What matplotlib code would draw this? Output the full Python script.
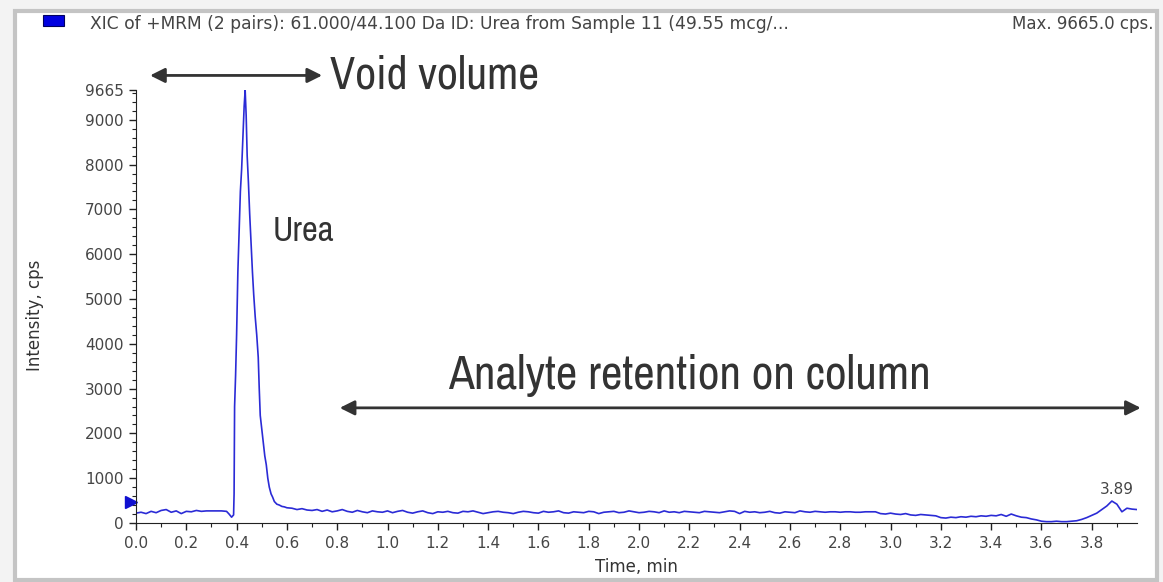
import os
import numpy as np
import matplotlib
matplotlib.use("Agg")
import matplotlib.pyplot as plt
from matplotlib import font_manager
from matplotlib.font_manager import FontProperties
from matplotlib.patches import Rectangle
from matplotlib.ticker import MultipleLocator, FixedLocator

# baseline before the urea peak, 0.00 - 0.36 min, every 0.02 min
pre_start = 0.0
pre_vals = [220, 240, 210, 260, 230, 280, 300, 240, 270, 210,
            260, 250, 280, 260, 270, 270, 270, 270, 260]

# urea peak (time, intensity)
peak_t = [0.370, 0.380, 0.388, 0.390, 0.392, 0.396, 0.400, 0.405, 0.410, 0.415,
          0.420, 0.425, 0.430, 0.434, 0.438, 0.442, 0.447, 0.452, 0.458, 0.463,
          0.468, 0.474, 0.480, 0.486, 0.490, 0.494, 0.500, 0.506, 0.512, 0.518,
          0.524, 0.530, 0.537, 0.543, 0.550, 0.560, 0.570, 0.580, 0.590, 0.600]
peak_i = [200, 130, 180, 650, 2600, 3300, 4200, 5600, 6500, 7400,
          7900, 8600, 9300, 9665, 9100, 8200, 7600, 6900, 6200, 5600,
          5100, 4600, 4200, 3700, 3000, 2400, 2100, 1800, 1500, 1300,
          1000, 800, 650, 580, 480, 420, 400, 370, 360, 340]

# baseline after the peak, 0.62 - 3.98 min, every 0.02 min
post_start = 0.62
post_vals = [330, 300, 320, 290, 280, 300, 260, 290, 250, 270,   # 0.62-0.80
             300, 260, 240, 280, 250, 230, 270, 250, 240, 270,   # 0.82-1.00
             230, 260, 280, 240, 220, 250, 270, 230, 210, 250,   # 1.02-1.20
             240, 260, 230, 220, 260, 250, 270, 240, 210, 230,   # 1.22-1.40
             250, 260, 240, 230, 210, 240, 260, 250, 230, 220,   # 1.42-1.60
             260, 240, 250, 270, 230, 220, 250, 240, 230, 260,   # 1.62-1.80
             250, 210, 240, 250, 260, 230, 240, 270, 250, 230,   # 1.82-2.00
             240, 260, 250, 230, 270, 240, 250, 230, 260, 250,   # 2.02-2.20
             240, 230, 260, 250, 240, 230, 250, 270, 260, 210,   # 2.22-2.40
             260, 240, 250, 230, 240, 260, 230, 220, 250, 240,   # 2.42-2.60
             230, 270, 250, 240, 260, 250, 240, 250, 250, 240,   # 2.62-2.80
             250, 250, 240, 240, 250, 250, 250, 210, 200, 220,   # 2.82-3.00
             200, 190, 210, 180, 170, 190, 180, 170, 160, 120,   # 3.02-3.20
             110, 130, 120, 140, 130, 150, 140, 160, 150, 170,   # 3.22-3.40
             160, 190, 150, 200, 160, 130, 120, 90, 70, 40,      # 3.42-3.60
             30, 30, 40, 30, 30, 40, 50, 80, 120, 170,           # 3.62-3.80
             220, 300, 380, 490, 420, 250, 330, 310, 300]        # 3.82-3.98

y_ticks = [0, 1000, 2000, 3000, 4000, 5000, 6000, 7000, 8000, 9000, 9665]
max_cps = 9665
small_peak_rt = 3.89
threshold_level = 460

pre_t = [round(pre_start + 0.02 * k, 3) for k in range(len(pre_vals))]
post_t = [round(post_start + 0.02 * k, 3) for k in range(len(post_vals))]
time = np.array(pre_t + peak_t + post_t)
intensity = np.array(pre_vals + peak_i + post_vals)

avail = {f.name for f in font_manager.fontManager.ttflist}
big_font = "Archivo Narrow"
for cand in ["Liberation Sans Narrow", "Archivo Narrow"]:
    if cand in avail:
        big_font = cand
        break

dv_path = os.path.join(matplotlib.get_data_path(), "fonts", "ttf", "DejaVuSans.ttf")


def small(size):
    if os.path.exists(dv_path):
        return FontProperties(fname=dv_path, size=size)
    return FontProperties(family="DejaVu Sans", size=size)


W, H = 1163, 582
fig = plt.figure(figsize=(W / 100, H / 100), dpi=100, facecolor="#f3f3f3")

# panel frame
fig.patches.append(Rectangle((15 / W, 1 - 580 / H), 1142 / W, 569 / H,
                             transform=fig.transFigure, facecolor="white",
                             edgecolor="#c4c4c4", lw=3, zorder=-10))
fig.patches.append(Rectangle((43 / W, 1 - 26 / H), 21 / W, 11 / H,
                             transform=fig.transFigure, facecolor="#0000e0",
                             edgecolor="#000060", lw=0.8, zorder=1))
fig.text(90 / W, 1 - 24 / H,
         "XIC of +MRM (2 pairs): 61.000/44.100 Da ID: Urea from Sample 11 (49.55 mcg/...",
         fontproperties=small(12.3), color="#444444", va="center", ha="left")
fig.text(1153 / W, 1 - 24 / H, "Max. %.1f cps." % max_cps,
         fontproperties=small(12), color="#444444", va="center", ha="right")

ax = fig.add_axes([136 / W, 1 - 523 / H, (1137 - 136) / W, (523 - 90) / H])
ax.set_facecolor("none")
ax.plot(time, intensity, color="#2b2bd6", lw=1.2)

ax.set_xlim(0, 3.98)
ax.set_ylim(0, max_cps)
for s in ["top", "right"]:
    ax.spines[s].set_visible(False)
ax.spines["left"].set_bounds(0, max_cps)
ax.spines["left"].set_color("#222222")
ax.spines["bottom"].set_color("#222222")

ax.xaxis.set_major_locator(MultipleLocator(0.2))
ax.xaxis.set_minor_locator(MultipleLocator(0.1))
ax.xaxis.set_major_formatter(matplotlib.ticker.FormatStrFormatter("%.1f"))
ax.yaxis.set_major_locator(FixedLocator(y_ticks))
ax.yaxis.set_minor_locator(MultipleLocator(200))
ax.tick_params(axis="both", which="major", labelcolor="#454545",
               length=5, width=1, color="#222222")
ax.tick_params(axis="x", which="major", pad=4)
ax.tick_params(axis="y", which="major", pad=4)
ax.tick_params(axis="both", which="minor", length=3, width=0.8, color="#222222")
fig.canvas.draw()
for lbl in ax.get_xticklabels() + ax.get_yticklabels():
    lbl.set_fontproperties(small(11))

ax.set_xlabel("Time, min", fontproperties=small(12), color="#333333", va="center")
ax.set_ylabel("Intensity, cps", fontproperties=small(12), color="#333333", va="center")
ax.xaxis.set_label_coords(0.5, -0.102)
ax.yaxis.set_label_coords(-0.101, 0.48)

# threshold marker on the y-axis
ax.plot([-0.02], [threshold_level], marker=">", markersize=9, color="#1010d0",
        clip_on=False)

ax.text(small_peak_rt + 0.01, 740, "%.2f" % small_peak_rt, fontproperties=small(11),
        color="#454545", ha="center", va="center")

arrow = dict(arrowstyle="<|-|>", mutation_scale=22, lw=2, color="#333333",
             shrinkA=0, shrinkB=0)
ax.annotate("", xy=(0.056, 9990), xytext=(0.74, 9990), arrowprops=arrow,
            annotation_clip=False)
ax.text(0.77, 9990, "Void volume", fontsize=33, family=big_font,
        color="#333333", ha="left", va="center", clip_on=False)
ax.annotate("", xy=(0.81, 2570), xytext=(3.995, 2570), arrowprops=arrow,
            annotation_clip=False)
ax.text(2.2, 3290, "Analyte retention on column", fontsize=34, family=big_font,
        color="#333333", ha="center", va="center")
ax.text(0.545, 6520, "Urea", fontsize=25, family=big_font, color="#333333",
        ha="left", va="center")

fig.savefig("out.png", dpi=100, facecolor=fig.get_facecolor())
